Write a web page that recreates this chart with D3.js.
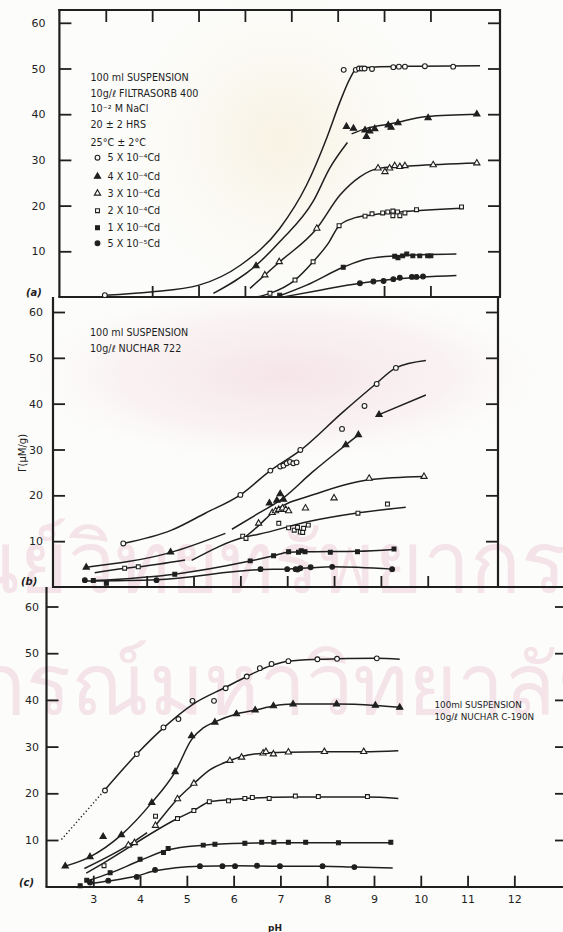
<!DOCTYPE html>
<html>
<head>
<meta charset="utf-8">
<script src="https://cdn.jsdelivr.net/npm/d3@7"></script>
<style>
  html, body { margin: 0; padding: 0; background: #fcfcfa; }
  svg { display: block; }
  text { font-family: "DejaVu Sans", "Liberation Sans", sans-serif; fill: #1e1e1e; }
</style>
</head>
<body>
<svg id="fig" width="563" height="932"></svg>
<script>
// ---------------- data ----------------
const GAMMA_TICKS = [10, 20, 30, 40, 50, 60];
const PH_LABELS = [3, 4, 5, 6, 7, 8, 9, 10, 11, 12];
const PH_TOP_TICKS_A = [3, 4, 5, 6, 7, 8, 9, 10];
const PH_BOTTOM_TICKS_A = [4, 5, 6, 9, 10];
const PH_BOTTOM_TICKS_B = [4, 5, 6, 7, 8, 9, 10];

const CD_LEVELS = ["5 X 10⁻⁴Cd", "4 X 10⁻⁴Cd", "3 X 10⁻⁴Cd", "2 X 10⁻⁴Cd", "1 X 10⁻⁴Cd", "5 X 10⁻⁵Cd"];
const MARKERS = ["circleOpen", "triangleFilled", "triangleOpen", "squareOpen", "squareFilled", "circleFilled"];

const NOTE_A = ["100 ml  SUSPENSION", "10g/ℓ FILTRASORB  400", "10⁻² M NaCl", "20 ± 2 HRS", "25°C ± 2°C"];
const NOTE_B = ["100 ml SUSPENSION", "10g/ℓ  NUCHAR 722"];
const NOTE_C = ["100ml  SUSPENSION", "10g/ℓ  NUCHAR C-190N"];

// (a) Filtrasorb 400 : fitted curves [pH, Γ]; null marks a break in the drawn line
const fitA = [
  [[2.98,0.4],[3.97,1.1],[5.01,2.6],[5.91,7.0],[6.75,15.0],[7.33,24.5],[7.76,34.7],[8.05,42.7],[8.27,47.9],[8.41,50.0],[8.74,50.3],[9.77,50.5],[11.07,50.6]],
  [[5.32,0.8],[6.25,7.0],[6.75,12.1],[7.47,20.9],[7.83,28.2],[8.21,33.8],null,[8.3,35.7],[8.62,36.9],[9.2,38.0],[9.92,39.5],[11.01,40.0]],
  [[6.11,1.9],[6.75,7.7],[7.55,15.0],[8.05,22.3],[8.48,26.3],[8.91,28.2],[9.63,28.7],[11.01,29.3]],
  [[6.25,0],[6.54,0.8],[7.08,3.7],[7.47,7.7],[7.8,11.8],[8.03,15.6],[8.33,17.2],[8.69,17.9],[9.27,18.5],[10.67,19.4]],
  [[6.68,0],[7.33,2.6],[8.12,6.5],[8.62,8.3],[9.27,9.0],[10.56,9.4]],
  [[6.82,0],[7.62,1.5],[8.48,3.0],[9.2,3.9],[10.56,4.7]]
];
const ptsA = [
  [[2.98,0.4],[8.13,49.7],[8.39,49.7],[8.46,50.0],[8.52,50.0],[8.58,50.0],[8.74,49.9],[9.2,50.3],[9.32,50.4],[9.45,50.4],[9.88,50.5],[10.49,50.4]],
  [[6.24,6.8],[8.19,37.3],[8.34,36.9],[8.59,36.5],[8.69,36.3],[8.8,36.8],[8.62,35.1],[9.09,37.6],[9.15,37.1],[9.3,38.1],[9.95,39.2],[11.0,40.0]],
  [[6.43,4.8],[6.74,7.7],[7.55,15.0],[8.87,28.2],[9.02,27.4],[9.12,28.2],[9.23,28.7],[9.34,28.5],[9.45,28.7],[10.06,28.9],[11.0,29.3]],
  [[6.54,0.8],[7.08,3.7],[7.47,7.7],[8.03,15.6],[8.59,17.7],[8.74,18.2],[8.97,18.4],[9.08,18.6],[9.19,18.8],[9.29,18.6],[9.19,17.8],[9.34,17.8],[9.45,18.4],[9.7,19.1],[10.67,19.7]],
  [[6.75,0.4],[8.12,6.5],[9.23,8.9],[9.3,8.6],[9.4,9.0],[9.49,9.4],[9.62,9.0],[9.77,9.0],[9.94,9.0],[10.01,9.0]],
  [[8.48,3.0],[8.77,3.4],[8.99,3.5],[9.2,3.9],[9.34,4.2],[9.6,4.4],[9.7,4.4],[9.84,4.5]]
];

// (b) Nuchar 722
const fitB = [
  [[3.5,9.5],[4.53,12.4],[5.25,16.1],[6.0,20.1],[6.64,25.4],[7.28,29.8],[8.17,38.0],[8.89,44.3],[9.32,47.8],[9.96,49.4]],
  [[2.71,4.3],[4.5,7.5],[5.68,11.7],null,[5.82,12.6],[6.39,16.1],[6.9,19.3],[7.53,25.0],[8.25,31.0],[8.52,33.2],null,[8.96,37.6],[9.96,41.9]],
  [[6.1,10.9],[6.39,13.4],[6.67,16.1],[7.67,20.5],[8.75,23.4],[9.92,24.1]],
  [[2.89,3.1],[3.53,4.1],[3.82,4.4],[4.82,5.9],null,[4.96,5.8],[6.1,10.9],[6.39,11.5],[7.46,14.3],[8.46,16.1],[9.53,17.4]],
  [[2.86,1.4],[4.6,2.8],[6.18,5.6],[6.71,6.8],[7.03,7.6],[7.5,7.7],[8.5,7.8],[9.28,8.2]],
  [[2.68,1.3],[4.21,1.6],[6.43,3.8],[7.0,3.9],[7.5,4.2],[7.96,4.4],[9.24,3.9]]
];
const ptsB = [
  [[3.5,9.5],[6.0,20.1],[6.64,25.4],[6.85,26.3],[6.92,26.5],[6.99,27.0],[7.06,27.3],[7.13,27.0],[7.2,27.2],[7.28,29.9],[8.17,34.5],[8.65,39.5],[8.91,44.3],[9.32,47.8]],
  [[2.71,4.3],[4.51,7.6],[6.62,18.3],[6.78,18.9],[6.85,20.3],[6.92,19.1],[8.25,31.0],[8.52,33.2],[8.96,37.6]],
  [[6.39,13.9],[6.68,16.2],[6.75,16.6],[6.82,16.9],[6.9,17.2],[6.97,16.9],[7.03,16.6],[7.39,17.2],[8.0,19.4],[8.75,23.7],[9.92,24.1]],
  [[3.53,4.1],[3.82,4.4],[6.05,11.1],[6.12,10.6],[6.82,13.9],[7.03,12.9],[7.15,12.4],[7.22,13.0],[7.28,12.0],[7.35,12.8],[7.33,11.9],[7.45,13.5],[8.51,16.1],[9.14,18.1]],
  [[2.86,1.4],[3.14,0.8],[4.6,2.8],[6.21,5.7],[6.71,6.8],[7.03,7.7],[7.24,7.6],[7.3,7.9],[7.38,7.7],[7.92,7.6],[8.5,7.7],[9.28,8.3]],
  [[2.68,1.5],[4.21,1.5],[6.43,3.9],[7.0,3.9],[7.18,3.9],[7.22,3.8],[7.28,4.1],[7.5,4.3],[7.96,4.4],[9.24,3.9]]
];

// (c) Nuchar C-190N
const fitC = [
  [[3.21,20.3],[3.93,28.4],[4.5,34.0],[5.12,39.0],[5.83,42.7],[6.28,45.0],[6.81,47.4],[7.17,48.3],[7.79,48.7],[8.21,48.8],[9.06,48.9],[9.55,48.7]],
  [[2.4,4.4],[2.93,6.4],[3.6,11.1],[4.25,18.0],[4.75,24.6],[5.1,31.5],[5.35,34.0],[5.6,35.3],[6.06,37.0],[6.46,37.8],[6.85,38.7],[7.27,39.1],[8.2,39.1],[9.03,38.8],[9.55,38.4]],
  [[2.81,3.9],[3.75,8.9],[4.15,11.6],null,[4.33,13.1],[4.8,18.8],[5.15,22.1],[5.49,25.0],[5.92,27.0],[6.17,27.9],[6.63,28.6],[7.17,28.8],[7.94,28.9],[8.78,28.9],[9.52,29.1]],
  [[2.85,2.9],[3.21,5.0],[4.8,14.6],[5.15,16.3],[5.49,18.2],[5.89,18.6],[6.4,19.0],[7.32,19.2],[8.86,19.2],[9.52,18.9]],
  [[2.86,1.2],[3.36,2.9],[4.0,5.6],[4.6,7.9],[5.35,8.9],[6.24,9.3],[7.17,9.4],[9.36,9.4]],
  [[2.9,0.6],[3.32,1.2],[3.93,2.3],[4.32,3.4],[5.28,4.4],[6.03,4.5],[6.99,4.4],[7.9,4.4],[8.58,4.2],[9.4,4.0]]
];
const extrapC = [[2.32,10.1],[3.21,20.3]];   // dotted extension of the top curve
const ptsC = [
  [[3.25,20.6],[3.93,28.4],[4.5,34.1],[4.82,35.9],[5.12,39.8],[5.58,39.8],[5.83,42.5],[6.28,45.0],[6.56,46.8],[6.81,47.7],[7.17,48.3],[7.79,48.7],[8.21,48.8],[9.06,48.9]],
  [[2.4,4.4],[2.93,6.4],[3.21,10.7],[3.6,11.1],[4.25,18.0],[4.75,24.6],[5.1,32.3],[5.6,35.2],[6.06,37.0],[6.46,37.8],[6.85,38.7],[7.27,39.1],[8.2,39.1],[9.03,38.8],[9.55,38.4]],
  [[3.75,8.9],[3.88,9.4],[4.33,13.1],[4.8,18.8],[5.15,22.1],[5.92,27.0],[6.17,27.7],[6.63,28.6],[6.69,28.9],[6.85,28.4],[7.17,28.8],[7.94,28.9],[8.78,28.9]],
  [[3.23,4.5],[4.33,15.1],[4.8,14.6],[5.15,16.3],[5.48,18.2],[5.89,18.4],[6.24,18.9],[6.4,19.1],[6.76,18.9],[7.32,19.4],[7.81,19.3],[8.86,19.3]],
  [[2.72,0.2],[2.86,1.4],[3.36,3.0],[4.0,5.9],[4.5,7.3],[4.6,8.2],[5.35,8.9],[5.6,9.1],[6.24,9.3],[6.6,9.5],[6.86,9.5],[7.17,9.5],[7.54,9.5],[8.24,9.4],[9.36,9.5]],
  [[2.93,0.9],[3.32,1.3],[3.93,2.1],[4.32,3.6],[5.28,4.4],[5.76,4.4],[6.03,4.4],[6.5,4.5],[6.99,4.4],[7.9,4.4],[8.58,4.2]]
];

const WATERMARK = ["ศูนย์วิทยทรัพยากร", "จุฬาลงกรณ์มหาวิทยาลัย"];

// ---------------- drawing ----------------
const INK = "#1f1f1f";
const PAPER = "#fcfcfa";
const svg = d3.select("#fig");

// faint library stamp behind the figure
const defs = svg.append("defs");
const rg = defs.append("radialGradient").attr("id", "pinkGlow");
rg.append("stop").attr("offset", "0%").attr("stop-color", "#f2d8e0").attr("stop-opacity", 0.65);
rg.append("stop").attr("offset", "65%").attr("stop-color", "#f5e2e8").attr("stop-opacity", 0.4);
rg.append("stop").attr("offset", "100%").attr("stop-color", "#f8eef1").attr("stop-opacity", 0);
const yg = defs.append("radialGradient").attr("id", "goldGlow");
yg.append("stop").attr("offset", "0%").attr("stop-color", "#f4ead0").attr("stop-opacity", 0.55);
yg.append("stop").attr("offset", "100%").attr("stop-color", "#f7f1de").attr("stop-opacity", 0);
svg.append("ellipse").attr("cx", 280).attr("cy", 140).attr("rx", 150).attr("ry", 150).attr("fill", "url(#goldGlow)");
svg.append("ellipse").attr("cx", 285).attr("cy", 375).attr("rx", 250).attr("ry", 85).attr("fill", "url(#pinkGlow)");
const wm = svg.append("g").attr("font-family", "'Noto Sans Thai','Noto Sans',sans-serif");
wm.append("text").attr("x", 566).attr("y", 592).attr("text-anchor", "end")
  .attr("font-size", 84).style("fill", "#f4e3e8").text(WATERMARK[0]);
wm.append("text").attr("x", 604).attr("y", 714).attr("text-anchor", "end")
  .attr("font-size", 84).style("fill", "#f4e3e8").text(WATERMARK[1]);

function symbolPath(kind) {
  const type = kind.startsWith("circle") ? d3.symbolCircle
             : kind.startsWith("triangle") ? d3.symbolTriangle : d3.symbolSquare;
  const size = kind.startsWith("circle") ? 18 : kind.startsWith("triangle") ? 17 : 15;
  return d3.symbol().type(type).size(size)();
}

function drawPanel(cfg, fits, pts) {
  const x = d3.scaleLinear().domain(cfg.phDomain).range([cfg.left, cfg.right]);
  const y = d3.scaleLinear().domain([0, 60]).range([cfg.bottom, cfg.y60]);
  const g = svg.append("g");

  // left axis with inward ticks and labels
  const ay = g.append("g").attr("transform", `translate(${cfg.left},0)`)
    .call(d3.axisLeft(y).tickValues(GAMMA_TICKS).tickSize(-12).tickSizeOuter(0).tickPadding(cfg.labelPad));
  ay.select(".domain").remove();
  ay.selectAll("text").attr("font-size", 11).style("fill", INK).attr("font-family", "DejaVu Sans");
  ay.selectAll("line").attr("stroke", INK).attr("stroke-width", 1.8);

  // right-hand inward ticks
  const ar = g.append("g").attr("transform", `translate(${cfg.rightTickX},0)`)
    .call(d3.axisRight(y).tickValues(GAMMA_TICKS).tickSize(-cfg.rightTickLen).tickFormat(""));
  ar.select(".domain").remove();
  ar.selectAll("line").attr("stroke", INK).attr("stroke-width", 1.8);

  // bottom ticks pointing up
  const ab = g.append("g").attr("transform", `translate(0,${cfg.bottom})`)
    .call(d3.axisBottom(x).tickValues(cfg.bottomTicks).tickSize(-11).tickPadding(9)
      .tickFormat(cfg.bottomLabels ? d3.format("d") : ""));
  ab.select(".domain").remove();
  ab.selectAll("line").attr("stroke", INK).attr("stroke-width", 1.8);
  ab.selectAll("text").attr("font-size", 11).style("fill", INK).attr("font-family", "DejaVu Sans");

  if (cfg.topTicks) {
    const at = g.append("g").attr("transform", `translate(0,${cfg.top})`)
      .call(d3.axisTop(x).tickValues(cfg.topTicks).tickSize(-12).tickFormat(""));
    at.select(".domain").remove();
    at.selectAll("line").attr("stroke", INK).attr("stroke-width", 1.8);
  }

  // frame
  const frame = g.append("g").attr("stroke", INK).attr("stroke-width", 2.2).attr("fill", "none");
  cfg.frame.forEach(s => frame.append("line").attr("x1", s[0]).attr("y1", s[1]).attr("x2", s[2]).attr("y2", s[3]));

  // fitted curves
  const line = d3.line().defined(d => d).x(d => x(d[0])).y(d => y(d[1])).curve(d3.curveMonotoneX);
  g.append("g").selectAll("path").data(fits).join("path")
    .attr("d", line).attr("fill", "none").attr("stroke", INK).attr("stroke-width", 1.5);

  // measured points
  pts.forEach((series, i) => {
    const kind = MARKERS[i];
    const open = kind.endsWith("Open");
    g.append("g").selectAll("path").data(series).join("path")
      .attr("transform", d => `translate(${x(d[0])},${y(d[1])})`)
      .attr("d", symbolPath(kind))
      .attr("fill", open ? PAPER : INK)
      .attr("stroke", INK).attr("stroke-width", 1.1);
  });

  // panel tag
  g.append("text").attr("x", cfg.tag[0]).attr("y", cfg.tag[1])
    .attr("font-size", 10).attr("font-style", "italic").attr("font-weight", "bold").text(cfg.tag[2]);
  return { x, y, g };
}

// (a)
drawPanel({
  phDomain: [2, 11.5], left: 59.4, right: 500, bottom: 297, y60: 22.8, top: 10,
  labelPad: 14, rightTickX: 500, rightTickLen: 12,
  bottomTicks: PH_BOTTOM_TICKS_A, bottomLabels: false, topTicks: PH_TOP_TICKS_A,
  frame: [[59.4, 9, 59.4, 297], [58.3, 10, 501, 10], [500, 9, 500, 297], [58.3, 297, 501, 297]],
  tag: [26, 296, "(a)"]
}, fitA, ptsA);

// (b)
drawPanel({
  phDomain: [2, 11.5], left: 53, right: 498, bottom: 587, y60: 312, top: 297,
  labelPad: 10, rightTickX: 498, rightTickLen: 12,
  bottomTicks: PH_BOTTOM_TICKS_B, bottomLabels: false, topTicks: null,
  frame: [[53, 297, 53, 587], [498, 297, 498, 587], [52, 587, 563, 587]],
  tag: [21, 585, "(b)"]
}, fitB, ptsB);

// (c)
const pc = drawPanel({
  phDomain: [2, 13.04], left: 46.5, right: 563, bottom: 886.7, y60: 606.5, top: 587,
  labelPad: 7.5, rightTickX: 563, rightTickLen: 8,
  bottomTicks: PH_LABELS, bottomLabels: true, topTicks: null,
  frame: [[46.5, 587, 46.5, 887], [45.5, 887, 563, 887]],
  tag: [19, 886, "(c)"]
}, fitC, ptsC);

// dotted extension of the top curve in (c)
pc.g.append("path")
  .attr("d", d3.line().x(d => pc.x(d[0])).y(d => pc.y(d[1]))(extrapC))
  .attr("fill", "none").attr("stroke", INK).attr("stroke-width", 1.4).attr("stroke-dasharray", "1.3,2.4");

// notes and legend in (a)
const noteA = svg.append("g").attr("font-size", 9.6);
const noteAY = [80.5, 96.5, 111.5, 127.5, 145.5];
NOTE_A.forEach((t, i) => noteA.append("text").attr("x", 90.5).attr("y", noteAY[i]).text(t));
const legY = [157.7, 176.5, 193.3, 210.7, 227.7, 243.3];
CD_LEVELS.forEach((t, i) => {
  const kind = MARKERS[i];
  svg.append("path").attr("transform", `translate(97.5,${legY[i]})`)
    .attr("d", symbolPath(kind)).attr("fill", kind.endsWith("Open") ? PAPER : INK)
    .attr("stroke", INK).attr("stroke-width", 1.1);
  noteA.append("text").attr("x", 107.5).attr("y", legY[i] + 3.6).text(t);
});

// notes in (b) and (c)
const noteB = svg.append("g").attr("font-size", 9.6);
NOTE_B.forEach((t, i) => noteB.append("text").attr("x", 90).attr("y", [336, 351.5][i]).text(t));
const noteC = svg.append("g").attr("font-size", 8.8);
NOTE_C.forEach((t, i) => noteC.append("text").attr("x", 434.5).attr("y", [707.5, 719.5][i]).text(t));

// axis titles
svg.append("text").attr("transform", "translate(26,453) rotate(-90)")
  .attr("text-anchor", "middle").attr("font-size", 10).text("Γ(μM/g)");
svg.append("text").attr("x", 275).attr("y", 931).attr("text-anchor", "middle")
  .attr("font-size", 9).attr("font-weight", "bold").text("pH");
</script>
</body>
</html>
